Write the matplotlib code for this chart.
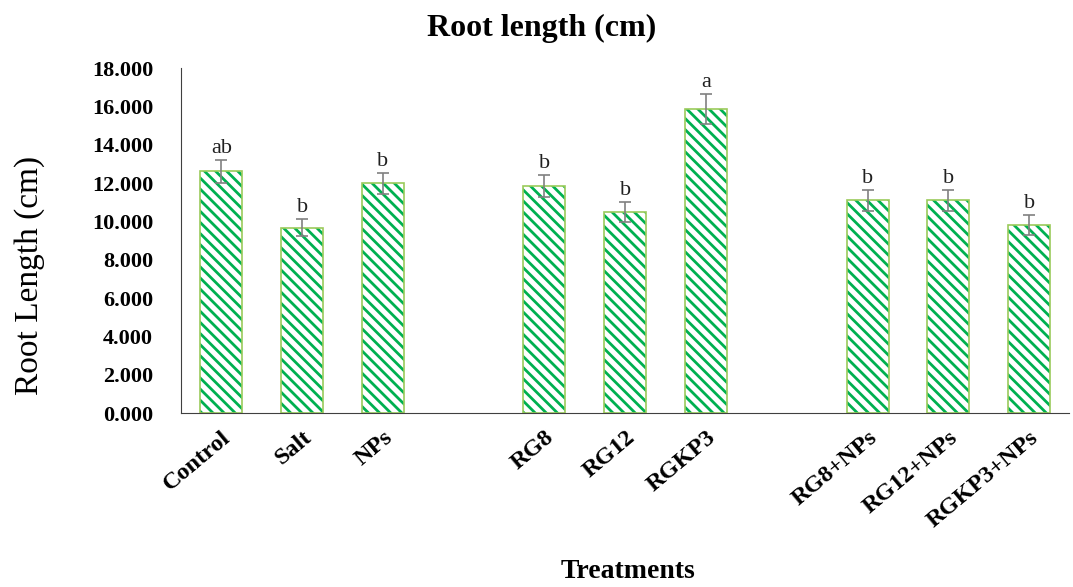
import numpy as np
import matplotlib.pyplot as plt

plt.rcParams['font.family'] = ['Liberation Serif', 'DejaVu Serif']
plt.rcParams['hatch.linewidth'] = 2.0

# data; empty strings are gaps between groups
treatments = ['Control', 'Salt', 'NPs', '', 'RG8', 'RG12', 'RGKP3', '',
              'RG8+NPs', 'RG12+NPs', 'RGKP3+NPs']
root_len = [12.62, 9.68, 11.98, np.nan, 11.86, 10.50, 15.86, np.nan,
            11.11, 11.11, 9.80]
root_err = [0.60, 0.45, 0.55, np.nan, 0.57, 0.52, 0.78, np.nan,
            0.55, 0.55, 0.52]
letters = ['ab', 'b', 'b', '', 'b', 'b', 'a', '', 'b', 'b', 'b']

fig = plt.figure(figsize=(10.73, 5.87), dpi=100)
ax = fig.add_axes([0.1687, 0.2964, 0.828, 0.5876])

x = np.arange(len(treatments))
# hatch takes the edge colour, so draw the hatch and the outline separately
ax.bar(x, root_len, width=0.52, color='white', edgecolor='#00B050',
       linewidth=0, hatch='\\\\\\', zorder=2)
ax.bar(x, root_len, width=0.52, color='none', edgecolor='#9BCB5B',
       linewidth=1.2, zorder=2)
ax.errorbar(x, root_len, yerr=root_err, fmt='none', ecolor='#808080',
            elinewidth=1.2, capsize=4, capthick=1.2, zorder=3)
for xi, v, e, s in zip(x, root_len, root_err, letters):
    if s:
        ax.text(xi, v + e + 0.1, s, ha='center', va='bottom', fontsize=16,
                color='#202020')

ax.set_xlim(-0.5, len(treatments) - 0.5)
ax.set_ylim(0, 18)
ax.set_yticks(np.arange(0, 18.1, 2))
ax.set_yticklabels(['%.3f' % t for t in np.arange(0, 18.1, 2)],
                   fontsize=16, fontweight='bold')
ax.set_xticks([i for i, t in enumerate(treatments) if t])
ax.set_xticklabels([t for t in treatments if t], rotation=40, ha='right',
                   rotation_mode='anchor', fontsize=17.5, fontweight='bold')
ax.tick_params(axis='y', length=0, pad=20)
ax.tick_params(axis='x', length=0, pad=10)
for side in ['top', 'right']:
    ax.spines[side].set_visible(False)
ax.spines['left'].set_color('#404040')
ax.spines['bottom'].set_color('#404040')

ax.set_ylabel('Root Length (cm)', fontsize=24)
ax.yaxis.set_label_coords(-0.153, 0.40)
fig.text(0.585, 0.027, 'Treatments', ha='center', va='center', fontsize=20,
         fontweight='bold')
fig.text(0.505, 0.952, 'Root length (cm)', ha='center', va='center',
         fontsize=23, fontweight='bold')

fig.savefig('out.png', dpi=100)
